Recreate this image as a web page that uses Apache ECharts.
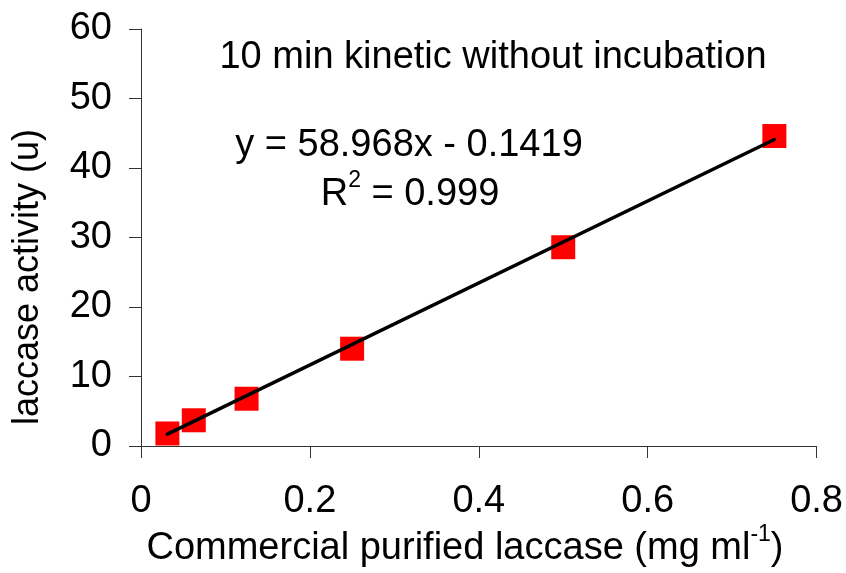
<!DOCTYPE html>
<html>
<head>
<meta charset="utf-8">
<script src="https://cdn.jsdelivr.net/npm/echarts@6/dist/echarts.min.js"></script>
<style>
  html, body { margin: 0; padding: 0; background: #fff; }
  #main { width: 846px; height: 573px; }
</style>
</head>
<body>
<div id="main"></div>
<script>
// laccase concentration (mg/ml) and measured activity (u)
const concentration = [0.03125, 0.0625, 0.125, 0.25, 0.5, 0.75];
const activity = [1.8, 3.7, 6.8, 14.0, 28.6, 44.6];
// fitted trend line end points
const trendX = [0.03125, 0.75];
const trendY = [1.7, 44.1];
const titleText = '10 min kinetic without incubation';
const equationText = 'y = 58.968x - 0.1419';

const font = '"Liberation Sans", Arial, sans-serif';

const chart = echarts.init(document.getElementById('main'));

// superscript rich styles
const richSup = {
  n: { fontSize: 38, fontFamily: font, color: '#000', lineHeight: 44, verticalAlign: 'bottom' },
  s: { fontSize: 23, fontFamily: font, color: '#000', lineHeight: 23, verticalAlign: 'bottom', padding: [0, 0, 22, 0] }
};

const option = {
  backgroundColor: '#fff',
  animation: false,
  grid: {
    left: 141,
    right: 28,
    top: 29,
    bottom: 127
  },
  xAxis: {
    type: 'value',
    min: 0,
    max: 0.8,
    interval: 0.2,
    splitLine: { show: false },
    axisLine: { lineStyle: { color: '#333', width: 1 } },
    axisTick: { show: true, length: 12, inside: false, lineStyle: { color: '#333' } },
    axisLabel: {
      color: '#000',
      fontFamily: font,
      fontSize: 38,
      margin: 37,
      formatter: v => String(Math.round(v * 10) / 10)
    }
  },
  yAxis: {
    type: 'value',
    min: 0,
    max: 60,
    interval: 10,
    splitLine: { show: false },
    axisLine: { show: true, lineStyle: { color: '#333', width: 1 } },
    axisTick: { show: true, length: 12, inside: false, lineStyle: { color: '#333' } },
    axisLabel: {
      color: '#000',
      fontFamily: font,
      fontSize: 38,
      margin: 29
    }
  },
  graphic: [
    {
      type: 'text',
      style: {
        text: titleText,
        x: 493, y: 58,
        align: 'center', verticalAlign: 'middle',
        font: '38px ' + font, fill: '#000'
      }
    },
    {
      type: 'text',
      style: {
        text: equationText,
        x: 409, y: 146,
        align: 'center', verticalAlign: 'middle',
        font: '38px ' + font, fill: '#000'
      }
    },
    {
      type: 'text',
      style: {
        text: '{n|R}{s|2}{n| = 0.999}',
        x: 410, y: 192,
        align: 'center', verticalAlign: 'middle',
        rich: richSup
      }
    },
    {
      type: 'text',
      rotation: Math.PI / 2,
      x: 28, y: 277,
      style: {
        text: 'laccase activity (u)',
        x: 0, y: 0,
        align: 'center', verticalAlign: 'middle',
        font: '36px ' + font, fill: '#000'
      }
    },
    {
      type: 'text',
      style: {
        text: '{n|Commercial purified laccase (mg ml}{s|-1}{n|)}',
        x: 465, y: 546,
        align: 'center', verticalAlign: 'middle',
        rich: richSup
      }
    }
  ],
  series: [
    {
      type: 'scatter',
      symbol: 'rect',
      symbolSize: 24,
      itemStyle: { color: '#ff0000', opacity: 1 },
      emphasis: { disabled: true },
      z: 2,
      data: concentration.map((c, i) => [c, activity[i]])
    },
    {
      type: 'line',
      showSymbol: false,
      symbol: 'none',
      lineStyle: { color: '#000', width: 3.5, cap: 'round' },
      z: 3,
      data: trendX.map((x, i) => [x, trendY[i]])
    }
  ]
};

chart.setOption(option);
</script>
</body>
</html>
